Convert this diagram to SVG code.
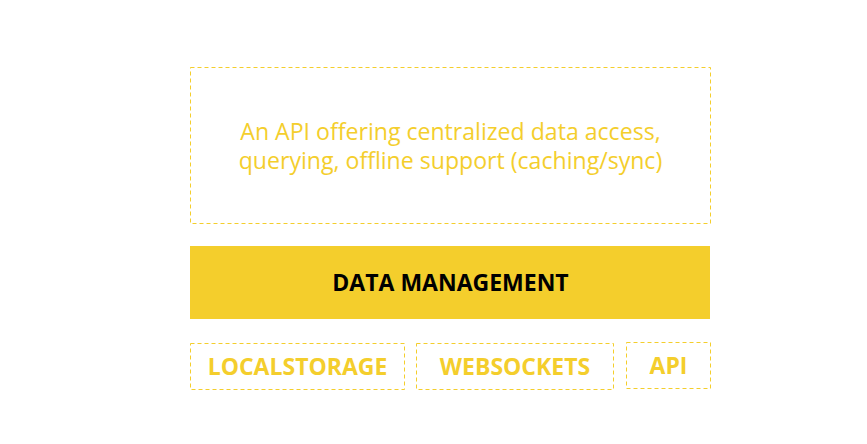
<svg xmlns="http://www.w3.org/2000/svg" width="867" height="444" viewBox="0 0 867 444">
<style>
.dash{fill:none;stroke:#F4CE2C;stroke-width:1;stroke-dasharray:4 3}
.desc{font-family:"Open Sans",sans-serif;font-size:23.1px;fill:#F4CE2C;text-anchor:middle}
.lbl{font-family:"Open Sans",sans-serif;font-size:23px;font-weight:bold;text-anchor:middle}
.y{fill:#F4CE2C}
</style>
<rect width="867" height="444" fill="#fff"/>
<g id="description">
<rect class="dash" x="190.5" y="67.5" width="520" height="156"/>
<text class="desc" x="450.5" y="140">An API offering centralized data access,</text>
<text class="desc" x="450.5" y="169">querying, offline support (caching/sync)</text>
</g>
<g id="data-management">
<rect x="190" y="246" width="520" height="73" fill="#F4CE2C"/>
<text class="lbl" x="450.5" y="291" fill="#000">DATA MANAGEMENT</text>
</g>
<g id="localstorage">
<rect class="dash" x="190.5" y="343.5" width="214" height="46"/>
<text class="lbl y" x="297.5" y="375">LOCALSTORAGE</text>
</g>
<g id="websockets">
<rect class="dash" x="416.5" y="343.5" width="197" height="46"/>
<text class="lbl y" x="515" y="375">WEBSOCKETS</text>
</g>
<g id="api">
<rect class="dash" x="626.5" y="342.5" width="84" height="46"/>
<text class="lbl y" x="668.5" y="374">API</text>
</g>
<g id="connectors"/>
</svg>
